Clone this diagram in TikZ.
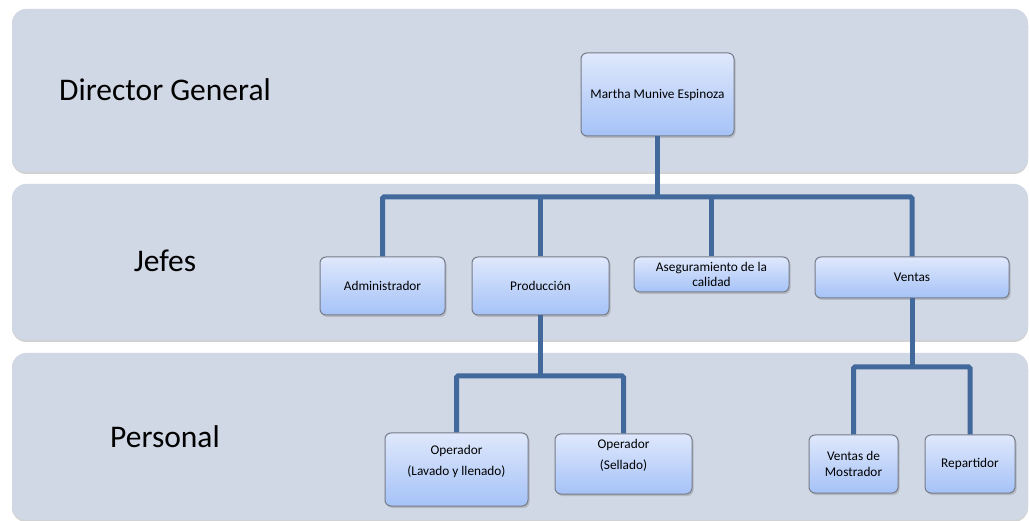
\documentclass[tikz,border=0pt]{standalone}
\usepackage{fontspec}
\setmainfont{Carlito}
\usetikzlibrary{shadows}

\definecolor{bandfill}{HTML}{D0D7E5}
\definecolor{linkblue}{HTML}{41699C}
\definecolor{boxtop}{HTML}{DFE8FC}
\definecolor{boxbot}{HTML}{A5C2F7}
\definecolor{boxline}{HTML}{767C88}

\tikzset{
  band/.style={fill=bandfill, draw=none, rounded corners=14pt,
    drop shadow={shadow xshift=0pt, shadow yshift=-2pt, opacity=0.35, fill=gray}},
  bandlabel/.style={font=\fontsize{31.5}{36}\selectfont, text=black},
  orgbox/.style={draw=boxline, line width=1pt, rounded corners=6pt,
    top color=boxtop, bottom color=boxbot, inner sep=0pt, align=center,
    font=\fontsize{13.3}{15.5}\selectfont,
    drop shadow={shadow xshift=1.5pt, shadow yshift=-2pt, opacity=0.35}},
  boxtext/.style={align=center, inner sep=0pt, font=\fontsize{13.3}{21}\selectfont},
  link/.style={draw=linkblue, line width=5pt, rounded corners=1.5pt},
}

\begin{document}
\begin{tikzpicture}[x=1pt, y=-1pt]
  \useasboundingbox (0,0) rectangle (1029,521);
  \fill[white] (0,0) rectangle (1029,521);

  % level bands
  \path[band] (12,9) rectangle (1028,172);
  \path[band] (12,184) rectangle (1028,340);
  \path[band] (12,353) rectangle (1028,520);

  \node[bandlabel] (lvl1) at (165,90) {Director General};
  \node[bandlabel] (lvl2) at (165,261) {Jefes};
  \node[bandlabel] (lvl3) at (165,437) {Personal};

  % positions
  \node[orgbox, minimum width=153pt, minimum height=83pt] (dir) at (657.5,94.5) {Martha Munive Espinoza};

  \node[orgbox, minimum width=125pt, minimum height=58pt] (adm) at (382.5,286) {Administrador};
  \node[orgbox, minimum width=137pt, minimum height=58pt] (prod) at (540.5,286) {Producción};
  \node[orgbox, minimum width=155pt, minimum height=35pt] (aseg) at (711.5,274.5) {Aseguramiento de la\\calidad};
  \node[orgbox, minimum width=194pt, minimum height=41pt] (ven) at (912,277.5) {Ventas};

  \node[orgbox, minimum width=143pt, minimum height=73pt] (op1) at (456.5,469.5) {};
  \node[boxtext] (op1txt) at (456.5,461) {Operador\\(Lavado y llenado)};
  \node[orgbox, minimum width=137pt, minimum height=60pt] (op2) at (623.5,464) {};
  \node[boxtext] (op2txt) at (623.5,455) {Operador\\(Sellado)};
  \node[orgbox, minimum width=89pt, minimum height=58pt] (vm) at (853.5,464) {Ventas de\\Mostrador};
  \node[orgbox, minimum width=90pt, minimum height=58pt] (rep) at (970,464) {Repartidor};

  % connectors
  \coordinate (hub) at (657.5,197);
  \coordinate (pbus) at (540.5,376);
  \coordinate (vbus) at (912,367);

  \draw[link] (dir.south) -- (hub);
  \draw[link] (adm.north) |- (hub) -| (ven.north);
  \draw[link] (prod.north) -- (prod.north |- hub);
  \draw[link] (aseg.north) -- (aseg.north |- hub);

  \draw[link] (prod.south) -- (pbus);
  \draw[link] (op1.north) |- (pbus) -| (op2.north);

  \draw[link] (ven.south) -- (vbus);
  \draw[link] (vm.north) |- (vbus) -| (rep.north);
\end{tikzpicture}
\end{document}
